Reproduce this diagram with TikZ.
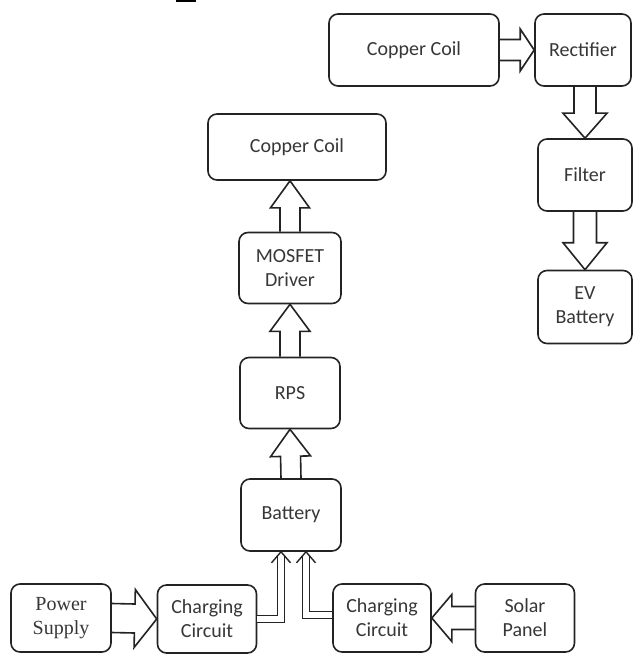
\documentclass[tikz,border=0pt]{standalone}
\usepackage{fontspec}
\setmainfont{Carlito}
\newfontfamily\timesface{Liberation Serif}
\usepackage{tikz}
\usetikzlibrary{positioning, arrows.meta, calc}
\definecolor{boxline}{RGB}{35, 35, 35}
\definecolor{boxtext}{RGB}{55, 55, 55}

\tikzset{
  arrowsize/.code args={#1/#2/#3}{\def\arrbw{#1}\def\arrhw{#2}\def\arrhl{#3}},
  arrowsize=10.5pt/21pt/26pt,
  blockarrow/.style={draw=boxline, line width=1.6pt, line join=miter,
    to path={
      ($(\tikztotarget)!\arrhl!(\tikztostart)$) coordinate (hb)
      ($(\tikztostart)!\arrbw!90:(\tikztotarget)$) -- ($(hb)!\arrbw!-90:(\tikztostart)$)
        -- ($(hb)!\arrhw!-90:(\tikztostart)$) -- (\tikztotarget)
        -- ($(hb)!\arrhw!90:(\tikztostart)$) -- ($(hb)!\arrbw!90:(\tikztostart)$)
        -- ($(\tikztostart)!\arrbw!-90:(\tikztotarget)$)
    }},
  dblline/.style={draw=boxline, line width=1.4pt, double=white, double distance=5.5pt, shorten >=4pt},
  barb/.style={draw=boxline, line width=1.4pt, line join=miter},
}

\begin{document}
\begin{tikzpicture}[x=1pt, y=-1pt,
    box/.style={draw=boxline, line width=1.6pt, rounded corners=9pt, fill=white, text=boxtext,
      align=center, inner sep=0pt, font=\fontsize{20}{24}\selectfont}]
  \useasboundingbox (0,0) rectangle (634,655);
  \fill[black] (176,0) rectangle (196,2);

  % receiver side
  \node[box, minimum width=170pt, minimum height=72pt] (coilrx) at (414,50) {Copper Coil};
  \node[box, minimum width=96pt, minimum height=72pt] (rectifier) at (583,50) {Rectifier};
  \node[box, minimum width=94pt, minimum height=72pt] (filter) at (585,175) {Filter};
  \node[box, minimum width=94pt, minimum height=73pt] (evbat) at (585,307) {EV\\Battery};

  % transmitter side
  \node[box, minimum width=178pt, minimum height=66pt] (coiltx) at (297,147) {Copper Coil};
  \node[box, minimum width=102pt, minimum height=71pt] (mosfet) at (290,268) {MOSFET\\Driver};
  \node[box, minimum width=100pt, minimum height=71pt] (rps) at (290,393) {RPS};
  \node[box, minimum width=100pt, minimum height=72pt] (battery) at (291,515) {Battery};

  % sources
  \node[box, minimum width=100pt, minimum height=68pt, font=\timesface\fontsize{20}{24}\selectfont] (mains) at (61,618) {Power\\Supply};
  \node[box, minimum width=99pt, minimum height=68pt] (chargeA) at (207,619) {Charging\\Circuit};
  \node[box, minimum width=98pt, minimum height=68pt] (chargeB) at (382,618) {Charging\\Circuit};
  \node[box, minimum width=99pt, minimum height=68pt] (solar) at (525,618) {Solar\\Panel};

  \draw[blockarrow, arrowsize=10.5pt/21pt/14pt] (coilrx.east) to (rectifier.west);
  \draw[blockarrow, arrowsize=11pt/22pt/25pt] (rectifier.south -| filter.north) to (filter.north);
  \draw[blockarrow, arrowsize=11.5pt/22pt/27pt] (filter.south) to (evbat.north);

  \draw[blockarrow, arrowsize=10pt/19.5pt/27pt] (mosfet.north) to (mosfet.north |- coiltx.south);
  \draw[blockarrow, arrowsize=10pt/20pt/27pt] (rps.north) to (mosfet.south);
  \draw[blockarrow, arrowsize=10pt/20pt/27pt] (battery.north) to (rps.south);

  \draw[blockarrow, arrowsize=14.5pt/29pt/22pt] (mains.east) to (chargeA.west);
  \draw[blockarrow, arrowsize=11.5pt/23.5pt/20pt] (solar.west) to (chargeB.east);

  % double lines into the battery
  \coordinate (inA) at ([xshift=-10pt]battery.south);
  \coordinate (inB) at ([xshift=15pt]battery.south);
  \draw[dblline] (chargeA.east) -| (inA);
  \draw[dblline] ([yshift=3pt]chargeB.west) -| (inB);
  \draw[barb] ($(inA)+(-9.5,11)$) -- (inA) -- ($(inA)+(9.5,11)$);
  \draw[barb] ($(inB)+(-9.5,11)$) -- (inB) -- ($(inB)+(9.5,11)$);
\end{tikzpicture}
\end{document}
